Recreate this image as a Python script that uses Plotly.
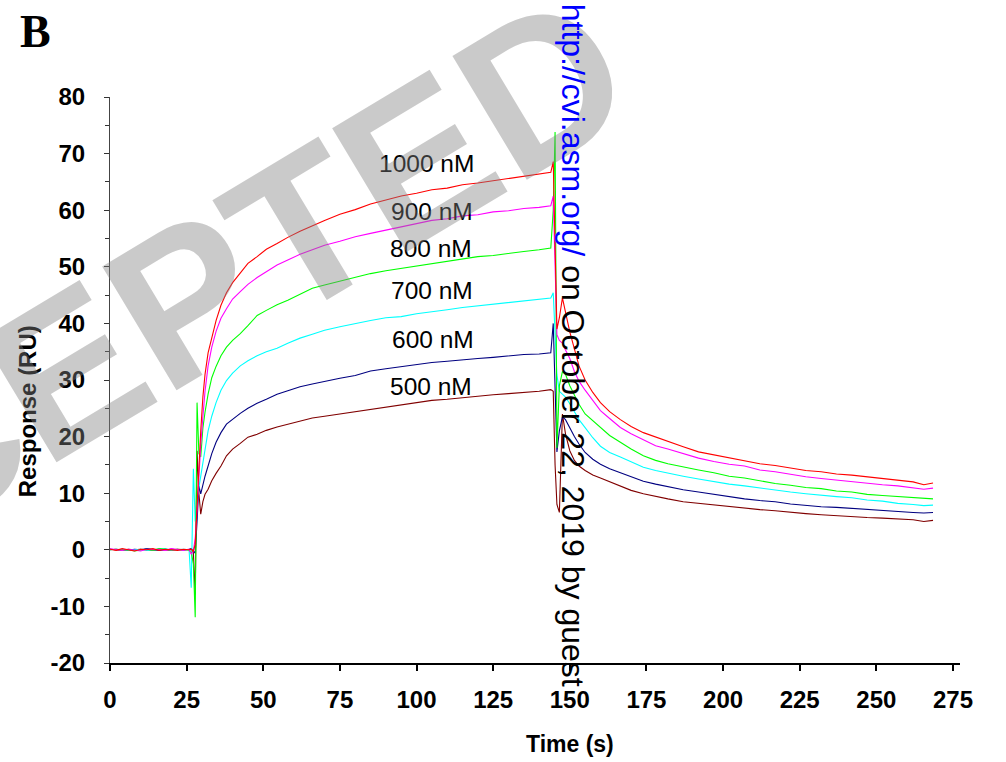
import plotly.graph_objects as go

# ---- data ----
time_s = [0, 2, 4, 6, 8, 10, 12, 14, 16, 18, 20, 22, 24, 25.8,
          26.5, 27.2, 27.8, 28.4, 29.0, 29.6, 30.3, 31.0, 32.0, 33.2,
          34.6, 36.2, 38, 40, 42.5, 45, 48, 51, 54.5, 58,
          62, 66, 70, 75, 80, 85, 90, 95, 100, 105,
          110, 115, 120, 125, 130, 135, 140, 143.8,
          144.6, 145.2, 145.8, 146.6, 147.6, 148.6, 150, 151.5, 153, 155,
          157.5, 160, 163, 166.5, 170, 174, 178, 182, 187, 192,
          197, 202, 207, 212, 217, 222, 227, 232, 237, 242,
          247, 252, 257, 262, 265.5, 268.5]

r1000 = [0.1, -0.1, 0.2, 0.0, -0.2, 0.1, 0.0, 0.2, -0.1, 0.1, 0.0, -0.1, 0.1, 0.0,
         0.1, -0.3, 1.0, 8.0, 15.0, 21.0, 27.0, 31.0, 34.8, 37.7,
         40.5, 43.2, 45.4, 47.2, 48.9, 50.6, 51.8, 53.1, 54.1, 55.2,
         56.3, 57.3, 58.2, 59.3, 60.1, 61.1, 61.8, 62.5, 63.0, 63.6,
         63.9, 64.5, 64.8, 65.2, 65.6, 65.9, 66.3, 66.7,
         68.6, 52.0, 39.0, 41.0, 44.5, 42.0, 38.5, 35.5, 32.5, 30.0,
         27.8, 26.0, 24.4, 23.0, 21.8, 20.7, 19.9, 19.1, 18.2, 17.3,
         16.8, 16.2, 15.7, 15.2, 14.9, 14.4, 14.0, 13.8, 13.4, 13.2,
         12.9, 12.6, 12.3, 12.0, 11.5, 11.8]

r900 = [0.2, 0.0, -0.1, 0.1, 0.0, -0.2, 0.1, 0.0, 0.1, -0.1, 0.2, 0.0, -0.1, 0.1,
        -0.8, -0.2, 2.0, 7.0, 13.0, 18.5, 23.5, 28.0, 32.5, 35.8,
        38.6, 40.9, 42.6, 44.3, 45.6, 46.9, 48.1, 49.1, 50.3, 51.2,
        52.2, 53.0, 53.8, 54.5, 55.3, 55.9, 56.5, 57.1, 57.6, 58.2,
        58.5, 59.0, 59.2, 59.7, 59.9, 60.3, 60.5, 60.8,
        62.5, 48.0, 38.0, 37.0, 36.5, 35.3, 33.8, 31.5, 29.8, 28.2,
        26.5, 24.6, 23.2, 21.6, 20.5, 19.4, 18.4, 17.8, 17.0, 16.2,
        15.6, 15.1, 14.8, 14.1, 13.8, 13.3, 12.9, 12.6, 12.3, 12.1,
        11.7, 11.5, 11.3, 11.0, 10.7, 10.9]

r800 = [0.0, 0.1, -0.1, 0.0, -0.2, 0.0, 0.1, -0.1, 0.2, 0.1, 0.0, 0.1, -0.1, 0.0,
        -0.4, -2.5, -11.9, 26.0, 17.0, 16.4, 21.5, 24.3, 27.5, 30.4,
        32.4, 34.3, 35.8, 37.0, 38.2, 39.6, 41.4, 42.3, 43.3, 44.1,
        45.1, 46.2, 46.8, 47.5, 48.2, 48.8, 49.3, 49.7, 50.2, 50.6,
        51.0, 51.3, 51.8, 52.0, 52.4, 52.7, 53.0, 53.3,
        60.0, 73.8, 18.0, 29.0, 31.5, 31.0, 29.0, 27.2, 25.7, 24.0,
        22.8, 21.6, 20.2, 19.0, 17.8, 16.6, 15.8, 15.2, 14.6, 14.1,
        13.6, 13.0, 12.7, 12.2, 11.7, 11.4, 11.0, 10.8, 10.4, 10.2,
        9.8, 9.6, 9.4, 9.2, 9.0, 9.0]

r700 = [0.1, 0.0, 0.1, -0.1, 0.0, 0.1, -0.1, 0.0, 0.0, 0.2, -0.1, 0.0, 0.1, 0.0,
        -6.7, 14.3, 5.0, 9.0, 11.0, 13.5, 16.0, 18.3, 21.0, 23.6,
        26.0, 28.2, 29.9, 31.2, 32.5, 33.4, 34.3, 35.0, 35.6, 36.5,
        37.4, 38.1, 38.8, 39.4, 40.0, 40.5, 41.0, 41.2, 41.7, 42.0,
        42.4, 42.8, 43.1, 43.4, 43.7, 44.0, 44.2, 44.5,
        45.4, 38.0, 30.9, 28.0, 27.5, 27.0, 25.8, 24.5, 23.0, 21.6,
        19.8, 18.3, 17.2, 16.4, 15.5, 14.6, 14.0, 13.5, 13.0, 12.5,
        12.0, 11.6, 11.3, 10.9, 10.5, 10.2, 9.9, 9.6, 9.4, 9.2,
        8.8, 8.6, 8.2, 8.0, 7.8, 7.9]

r600 = [0.0, 0.1, 0.0, -0.1, 0.1, 0.0, 0.2, 0.0, -0.1, 0.0, 0.1, 0.0, 0.0, 0.1,
        0.2, -0.3, -0.6, 5.0, 11.3, 9.9, 11.5, 13.0, 14.8, 17.0,
        19.0, 20.7, 22.2, 23.1, 24.1, 25.0, 25.9, 26.6, 27.5, 28.1,
        28.8, 29.3, 29.8, 30.3, 30.8, 31.6, 32.0, 32.4, 32.8, 33.1,
        33.3, 33.6, 33.8, 34.0, 34.3, 34.5, 34.6, 34.8,
        40.0, 30.0, 17.3, 21.0, 23.5, 23.0, 21.5, 20.0, 18.7, 17.2,
        16.0, 15.1, 14.3, 13.6, 12.8, 12.1, 11.6, 11.1, 10.6, 10.2,
        9.8, 9.3, 9.0, 8.7, 8.5, 8.1, 7.8, 7.6, 7.5, 7.3,
        7.1, 6.9, 6.8, 6.6, 6.5, 6.6]

r500 = [0.1, 0.0, -0.1, 0.1, 0.0, 0.1, 0.0, -0.1, 0.1, 0.0, -0.1, 0.1, 0.0, 0.0,
        0.1, -0.5, -7.9, 17.5, 10.0, 6.3, 8.5, 9.8, 10.7, 12.2,
        13.5, 14.8, 16.6, 17.8, 18.8, 19.9, 20.4, 21.1, 21.7, 22.2,
        22.8, 23.3, 23.6, 24.0, 24.5, 24.9, 25.3, 25.7, 26.1, 26.4,
        26.6, 26.9, 27.1, 27.4, 27.6, 27.8, 28.0, 28.3,
        28.0, 15.0, 8.0, 6.6, 24.0, 20.5, 17.5, 15.8, 14.8, 14.0,
        13.2, 12.7, 12.0, 11.2, 10.5, 9.9, 9.4, 9.0, 8.5, 8.2,
        7.9, 7.6, 7.4, 7.1, 6.9, 6.6, 6.4, 6.2, 6.0, 5.9,
        5.7, 5.6, 5.4, 5.3, 5.0, 5.2]

series_names = ["1000 nM", "900 nM", "800 nM", "700 nM", "600 nM", "500 nM"]
series_values = [r1000, r900, r800, r700, r600, r500]
series_colors = ["#ff0000", "#ff00ff", "#00ff00", "#00ffff", "#000080", "#800000"]

# label positions (data coords) for concentration labels
label_x = [103.4, 104.9, 104.6, 104.9, 105.4, 104.6]
label_y = [68.3, 59.7, 53.2, 45.9, 37.1, 28.8]

x_ticks = [0, 25, 50, 75, 100, 125, 150, 175, 200, 225, 250, 275]
y_ticks = [-20, -10, 0, 10, 20, 30, 40, 50, 60, 70, 80]
y_minor = [-15, -5, 5, 15, 25, 35, 45, 55, 65, 75]

FONT = "Liberation Sans, Arial, Helvetica, sans-serif"

fig = go.Figure()
# plot in reverse so 1000 nM lies on top like the reference
for name, vals, col in zip(reversed(series_names), reversed(series_values), reversed(series_colors)):
    fig.add_trace(go.Scatter(x=time_s, y=vals, mode="lines", name=name,
                             line=dict(color=col, width=1.1), showlegend=False))

annotations = []
for name, lx, ly in zip(series_names, label_x, label_y):
    annotations.append(dict(x=lx, y=ly, xref="x", yref="y", text=name, showarrow=False,
                            xanchor="center", yanchor="middle",
                            font=dict(family=FONT, size=24.5, color="black")))

# axis titles
annotations.append(dict(x=0.541, y=-0.1426, xref="paper", yref="paper", text="Time (s)",
                        xanchor="center", yanchor="middle", showarrow=False,
                        font=dict(family=FONT, size=23, color="black", weight="bold")))
annotations.append(dict(x=-0.097, y=0.444, xref="paper", yref="paper", text="Response (RU)",
                        xanchor="center", yanchor="middle", textangle=-90, showarrow=False,
                        font=dict(family=FONT, size=24, color="black", weight="bold")))
# panel letter
annotations.append(dict(x=-0.088, y=1.1154, xref="paper", yref="paper", text="B",
                        xanchor="center", yanchor="middle", showarrow=False,
                        font=dict(family="Liberation Serif, Times New Roman, serif", size=46,
                                  color="black", weight="bold")))
# watermark
annotations.append(dict(x=0.0024, y=0.562, xref="paper", yref="paper", text="ACCEPTED",
                        xanchor="center", yanchor="middle", textangle=-31, showarrow=False,
                        font=dict(family=FONT, size=210, color="rgba(128,128,128,0.42)", weight="bold")))
# vertical download stamp
annotations.append(dict(x=0.5447, y=0.5606, xref="paper", yref="paper",
                        text="<span style='color:#0000ff'>http://cvi.asm.org/</span> on October 22, 2019 by guest",
                        xanchor="center", yanchor="middle", textangle=90, showarrow=False,
                        font=dict(family=FONT, size=32, color="black")))

fig.update_layout(
    width=1006, height=762,
    margin=dict(l=110, r=46, t=97, b=99),
    paper_bgcolor="white", plot_bgcolor="white",
    font=dict(family=FONT, color="black"),
    annotations=annotations,
    xaxis=dict(range=[0, 277.3], tickvals=x_ticks, ticktext=[str(v) for v in x_ticks],
               ticks="outside", ticklen=6, tickwidth=1.5,
               tickcolor="black", showline=True, linecolor="black", linewidth=1.5,
               showgrid=False, zeroline=False,
               tickfont=dict(family=FONT, size=24, color="black", weight="bold"),
               ticklabelstandoff=8),
    yaxis=dict(range=[-20, 80], tickvals=y_ticks, ticktext=[str(v) for v in y_ticks],
               ticks="outside", ticklen=5, tickwidth=1.2,
               tickcolor="#333333", showline=True, linecolor="#444444", linewidth=1.2,
               showgrid=False, zeroline=False,
               minor=dict(tickvals=y_minor, ticks="outside", ticklen=4, tickcolor="#333333"),
               tickfont=dict(family=FONT, size=24, color="black", weight="bold"),
               ticklabelstandoff=14),
)

fig.write_html("out.html", config={"displayModeBar": False})

# remove default page margin so the figure sits at the window's top-left corner
with open("out.html", "r", encoding="utf-8") as f:
    html = f.read()
html = html.replace("<body>", "<body style=\"margin:0;padding:0;overflow:hidden\">", 1)
with open("out.html", "w", encoding="utf-8") as f:
    f.write(html)
